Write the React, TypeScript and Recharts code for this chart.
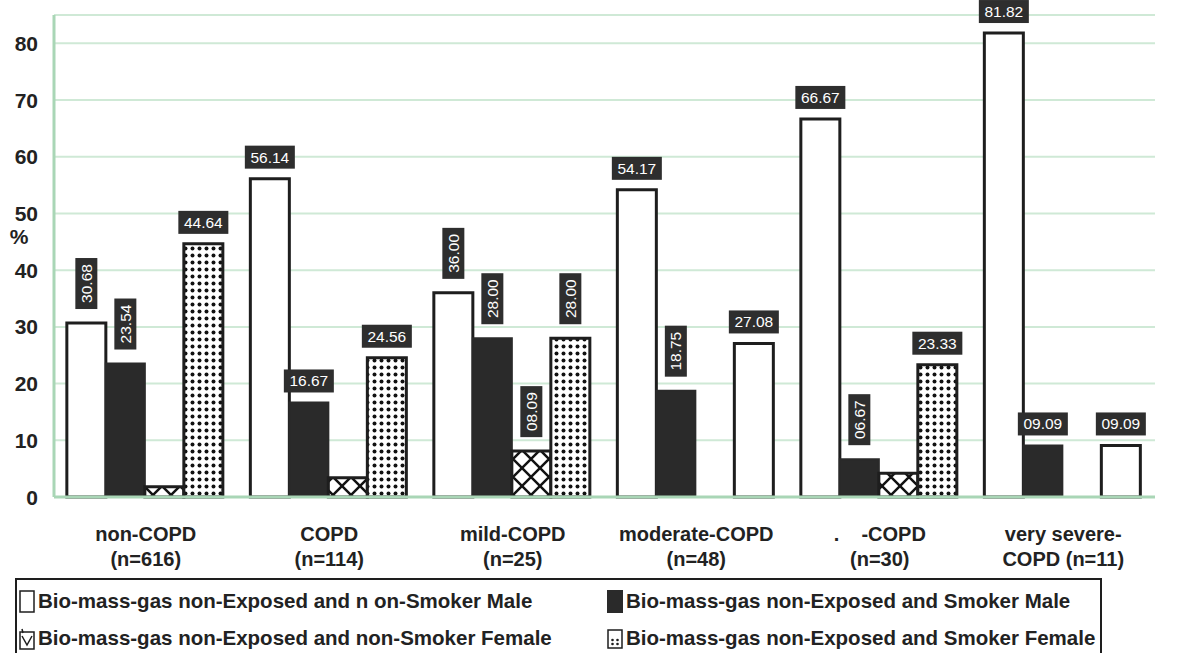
import { BarChart, Bar, XAxis, YAxis, CartesianGrid, Cell, LabelList } from 'recharts';

const categories = ['non-COPD', 'COPD', 'mild-COPD', 'moderate-COPD', '.\u00a0\u00a0\u00a0\u00a0-COPD', 'very severe-'];
const categoryCounts = ['(n=616)', '(n=114)', '(n=25)', '(n=48)', '(n=30)', 'COPD (n=11)'];

const nonSmokerMale = [30.68, 56.14, 36.0, 54.17, 66.67, 81.82];
const smokerMale = [23.54, 16.67, 28.0, 18.75, 6.67, 9.09];
const nonSmokerFemale = [1.8, 3.4, 8.09, 0, 4.2, 0];
const smokerFemale = [44.64, 24.56, 28.0, 27.08, 23.33, 9.09];

const yTicks = [0, 10, 20, 30, 40, 50, 60, 70, 80];
const minorTicks = [0, 2, 4, 6, 8, 10, 12, 14, 16, 18, 20, 22, 24, 26, 28, 30, 32, 34, 36, 38, 40,
  42, 44, 46, 48, 50, 52, 54, 56, 58, 60, 62, 64, 66, 68, 70, 72, 74, 76, 78, 80, 82, 84];

const legendLabels = [
  'Bio-mass-gas non-Exposed and n on-Smoker Male',
  'Bio-mass-gas non-Exposed and Smoker Male',
  'Bio-mass-gas non-Exposed and non-Smoker Female',
  'Bio-mass-gas non-Exposed and Smoker Female',
];

const data = categories.map((name, i) => ({
  name,
  nsm: nonSmokerMale[i],
  sm: smokerMale[i],
  nsf: nonSmokerFemale[i],
  sf: smokerFemale[i],
}));

// which value tags stand on end, and which are left out
const verticalTags = new Set(['nsm:0', 'sm:0', 'nsm:2', 'sm:2', 'nsf:2', 'sf:2', 'sm:3', 'sm:4']);
const hiddenTags = new Set(['nsf:0', 'nsf:1', 'nsf:3', 'nsf:4', 'nsf:5']);
const plainFemale = new Set([3, 5]);

const GREEN = '#a9d6b6';
const GRID = '#cfe9d6';
const INK = '#1e1e1e';
const FONT = '"Liberation Sans", Arial, sans-serif';

const fmt = (v: number) => v.toFixed(2).padStart(5, '0');

const makeTag = (series: string) => (p: any) => {
  const { x, y, width, value, index } = p;
  const key = `${series}:${index}`;
  if (hiddenTags.has(key) || value == null) return null;
  const cx = Number(x) + Number(width) / 2;
  const text = fmt(Number(value));
  if (verticalTags.has(key)) {
    const w = 22, h = 51, bottom = Number(y) - 14;
    return (
      <g>
        <rect x={cx - w / 2} y={bottom - h} width={w} height={h} fill="#2e2e2e" />
        <text
          transform={`translate(${cx},${bottom - h / 2}) rotate(-90)`}
          textAnchor="middle" dominantBaseline="central"
          fill="#fff" fontSize={15.5} fontFamily={FONT}
        >{text}</text>
      </g>
    );
  }
  const w = 50, h = 23, bottom = Number(y) - 10;
  return (
    <g>
      <rect x={cx - w / 2} y={bottom - h} width={w} height={h} fill="#2e2e2e" />
      <text x={cx} y={bottom - h / 2} textAnchor="middle" dominantBaseline="central"
        fill="#fff" fontSize={15.5} fontFamily={FONT}>{text}</text>
    </g>
  );
};

const CategoryTick = (p: any) => {
  const { x, y, payload } = p;
  const i = categories.indexOf(payload.value);
  return (
    <g>
      <text x={x} y={y + 36} textAnchor="middle" fontSize={20} fontWeight={700}
        fontFamily={FONT} fill="#222" style={{ whiteSpace: 'pre' }}>{categories[i]}</text>
      <text x={x} y={y + 61} textAnchor="middle" fontSize={20} fontWeight={700}
        fontFamily={FONT} fill="#222">{categoryCounts[i]}</text>
    </g>
  );
};

const ValueTick = (p: any) => {
  const { y, payload } = p;
  return (
    <g>
      <text x={38} y={y} textAnchor="end" dominantBaseline="central" fontSize={21}
        fontWeight={700} fontFamily={FONT} fill="#222">{payload.value}</text>
      {payload.value === 50 && (
        <text x={19} y={y + 23} textAnchor="middle" dominantBaseline="central" fontSize={21}
          fontWeight={700} fontFamily={FONT} fill="#222">%</text>
      )}
    </g>
  );
};

const NoTick = () => <g />;

const Swatch = ({ kind }: { kind: number }) => (
  <svg width={16} height={23} style={{ flex: 'none', marginRight: 3 }}>
    {kind === 0 && <rect x={1} y={1} width={14} height={21} fill="#fff" stroke={INK} strokeWidth={1.5} />}
    {kind === 1 && <rect x={0} y={0} width={16} height={23} fill="#2a2a2a" />}
    {kind === 2 && (
      <g>
        <rect x={1} y={5} width={14} height={17} fill="#fff" stroke={INK} strokeWidth={1.5} />
        <path d="M3 9 L8 18 L13 9 M3 2 L4 6" stroke={INK} strokeWidth={1.5} fill="none" />
      </g>
    )}
    {kind === 3 && (
      <g>
        <rect x={1} y={3} width={14} height={18} fill="#fff" stroke={INK} strokeWidth={1.5} />
        <circle cx={5.5} cy={13} r={1.3} fill={INK} />
        <circle cx={10.5} cy={13} r={1.3} fill={INK} />
        <circle cx={5.5} cy={17} r={1.3} fill={INK} />
        <circle cx={10.5} cy={17} r={1.3} fill={INK} />
      </g>
    )}
  </svg>
);

export default function App() {
  return (
    <div style={{ position: 'absolute', left: 0, top: 0, width: 1180, height: 653, background: '#fff', overflow: 'hidden' }}>
      <BarChart
        width={1180}
        height={575}
        data={data}
        margin={{ top: 15, right: 25, left: 0, bottom: 0 }}
        barCategoryGap="7%"
        barGap={0}
      >
        <defs>
          <pattern id="dots" width={7} height={7} patternUnits="userSpaceOnUse">
            <rect width={7} height={7} fill="#fff" />
            <circle cx={3.5} cy={3.5} r={2} fill="#111" />
          </pattern>
          <pattern id="cross" width={18} height={18} patternUnits="userSpaceOnUse">
            <rect width={18} height={18} fill="#fff" />
            <path d="M0 0 L18 18 M18 0 L0 18" stroke="#111" strokeWidth={2.5} />
          </pattern>
        </defs>
        <CartesianGrid vertical={false} stroke={GRID} strokeWidth={2} />
        <XAxis dataKey="name" height={78} tickLine={false} interval={0}
          axisLine={{ stroke: GREEN, strokeWidth: 3 }} tick={<CategoryTick />} />
        <XAxis xAxisId="top" dataKey="name" orientation="top" height={0} tick={false}
          tickLine={false} axisLine={{ stroke: GREEN, strokeWidth: 3 }} />
        <YAxis yAxisId="minor" domain={[0, 85]} ticks={minorTicks} width={0}
          tick={<NoTick />} interval={0} tickSize={4}
          tickLine={{ stroke: GREEN, strokeWidth: 1.5 }} axisLine={false} />
        <YAxis domain={[0, 85]} ticks={yTicks} width={54} tickLine={false} interval={0}
          axisLine={{ stroke: GREEN, strokeWidth: 3 }} tick={<ValueTick />} />
        <YAxis yAxisId="right" orientation="right" domain={[0, 85]} width={0} tick={false}
          tickLine={false} axisLine={{ stroke: GREEN, strokeWidth: 3 }} />
        <Bar dataKey="nsm" fill="#fff" stroke={INK} strokeWidth={3} isAnimationActive={false}>
          <LabelList dataKey="nsm" content={makeTag('nsm')} />
        </Bar>
        <Bar dataKey="sm" fill="#2a2a2a" stroke="#2a2a2a" strokeWidth={2} isAnimationActive={false}>
          <LabelList dataKey="sm" content={makeTag('sm')} />
        </Bar>
        <Bar dataKey="nsf" fill="url(#cross)" stroke={INK} strokeWidth={3} isAnimationActive={false}>
          <LabelList dataKey="nsf" content={makeTag('nsf')} />
        </Bar>
        <Bar dataKey="sf" stroke={INK} strokeWidth={3} isAnimationActive={false}>
          {smokerFemale.map((_, i) => (
            <Cell key={i} fill={plainFemale.has(i) ? '#fff' : 'url(#dots)'} />
          ))}
          <LabelList dataKey="sf" content={makeTag('sf')} />
        </Bar>
      </BarChart>
      <div style={{
        position: 'absolute', left: 15, top: 578, width: 1083, height: 90,
        border: `2px solid ${INK}`, fontFamily: FONT, fontWeight: 700, fontSize: 20.5, color: '#222',
      }}>
        {[0, 1, 2, 3].map(k => (
          <div key={k} style={{
            position: 'absolute', left: k % 2 === 0 ? 2 : 590, top: k < 2 ? 9 : 46,
            display: 'flex', alignItems: 'center', whiteSpace: 'nowrap', height: 24,
          }}>
            <Swatch kind={k} />
            <span>{legendLabels[k]}</span>
          </div>
        ))}
      </div>
    </div>
  );
}
